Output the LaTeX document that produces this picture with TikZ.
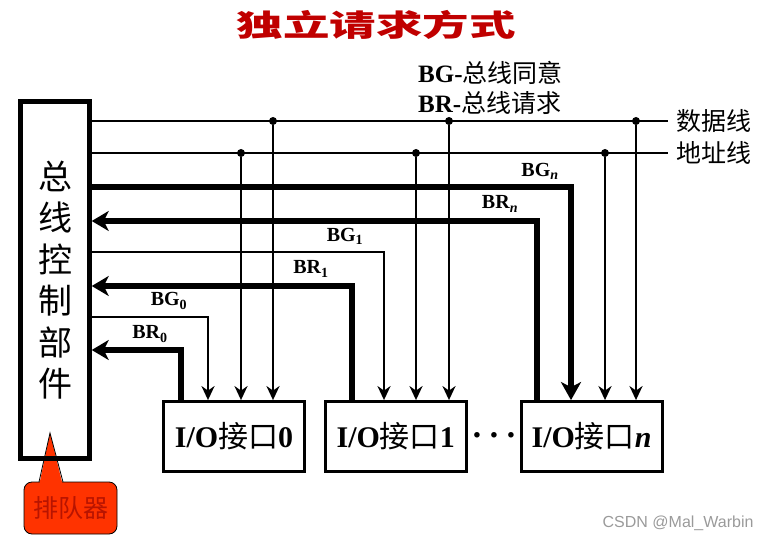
\documentclass[tikz,border=0pt]{standalone}
\usepackage{fontspec}
\setmainfont{Liberation Serif}
\newfontfamily\cjk{Noto Sans CJK SC}
\newfontfamily\wmfont{Liberation Sans}
\usetikzlibrary{arrows.meta,positioning}
\definecolor{titlered}{HTML}{C00000}
\definecolor{queuefill}{HTML}{FF3300}
\definecolor{queuetext}{HTML}{B81400}
\definecolor{wmgray}{HTML}{9A9A9A}
\newcommand{\zhtext}[1]{{\cjk #1}}
\tikzset{
  unit/.style={draw,line width=2.8pt,minimum width=141pt,minimum height=70pt,inner sep=0pt,font=\fontsize{30}{30}\selectfont},
  ctrlbox/.style={draw,line width=4.5pt,minimum width=69pt,minimum height=357pt,inner sep=0pt,align=center,font=\fontsize{34}{41.5}\selectfont\cjk},
  sig/.style={font=\fontsize{20}{20}\selectfont\bfseries,inner sep=0pt},
  legend/.style={font=\fontsize{25}{25}\selectfont,inner sep=0pt,anchor=west},
  bus/.style={line width=2.8pt},
  tap/.style={bus,-{Stealth[length=14pt,width=13pt,inset=4.5pt]}},
  grant/.style={line width=5.5pt,-{Stealth[length=18pt,width=20pt,inset=5pt]}},
  request/.style={line width=5.5pt,-{Stealth[length=17pt,width=20pt,inset=5pt]}},
  joint/.style={circle,fill,inner sep=0pt,minimum size=8pt},
  callout/.style={draw,fill=queuefill,rounded corners=8pt,line width=0.8pt,minimum width=93pt,minimum height=52pt,text=queuetext,font=\fontsize{25}{25}\selectfont\cjk}
}
\begin{document}
\begin{tikzpicture}[x=1pt,y=-1pt]
\useasboundingbox (0,0) rectangle (762,540);
\node[text=titlered,font=\fontsize{30}{30}\selectfont] (title) at (376,25) {\scalebox{1.55}[1]{\cjk\bfseries 独立请求方式}};

% queue callout, pointer behind the control box
\node[callout] (queue) at (70.5,508) {排队器};
\fill[queuefill] (39,486) -- (50,433) -- (63,486) -- cycle;
\draw[line width=0.8pt] (39,482) -- (50,433) -- (63,482);

\node[ctrlbox] (ctrl) at (55,280) {总\\线\\控\\制\\部\\件};
\node[unit] (io0) at (234,436.5) {\textbf{I/O}\zhtext{接口}\textbf{0}};
\node[unit,right=18pt of io0] (io1) {\textbf{I/O}\zhtext{接口}\textbf{1}};
\node[unit,right=52pt of io1] (ion) {\textbf{I/O}\zhtext{接口}\textbf{\textit{n}}};
\node[font=\fontsize{34}{34}\selectfont\bfseries] (more) at (494,439) {·\,·\,·};

\node[legend] (bgnote) at (418,73) {\textbf{BG-}\zhtext{总线同意}};
\node[legend] (brnote) at (418,103) {\textbf{BR-}\zhtext{总线请求}};

% data and address bus
\coordinate (dataend) at (668,121);
\coordinate (addrend) at (668,153);
\draw[bus] (ctrl.east |- dataend) -- (dataend);
\draw[bus] (ctrl.east |- addrend) -- (addrend);
\node[legend] (datalbl) at ([xshift=8pt]dataend) {\zhtext{数据线}};
\node[legend] (addrlbl) at ([xshift=8pt]addrend) {\zhtext{地址线}};
\foreach \x/\y/\u in {273/121/io0,449/121/io1,636/121/ion,241/153/io0,416/153/io1,605/153/ion}{
  \node[joint] (tap-\u-\y) at (\x,\y) {};
  \draw[tap] (tap-\u-\y) -- (tap-\u-\y |- \u.north);
}

% grant / request lines
\coordinate (bgn) at (571,187);
\coordinate (brn) at (537,221);
\coordinate (bg1) at (384,252);
\coordinate (br1) at (352,286);
\coordinate (bg0) at (208,317);
\coordinate (br0) at (181,350);
\draw[grant] (ctrl.east |- bgn) -| (bgn |- ion.north);
\draw[request] (brn |- ion.north) |- (ctrl.east |- brn);
\draw[tap] (ctrl.east |- bg1) -| (bg1 |- io1.north);
\draw[request] (br1 |- io1.north) |- (ctrl.east |- br1);
\draw[tap] (ctrl.east |- bg0) -| (bg0 |- io0.north);
\draw[request] (br0 |- io0.north) |- (ctrl.east |- br0);

\node[sig] (lbgn) at (540,171) {BG\textsubscript{\textit{n}}};
\node[sig] (lbrn) at (500,204) {BR\textsubscript{\textit{n}}};
\node[sig] (lbg1) at (345,236) {BG\textsubscript{1}};
\node[sig] (lbr1) at (311,269) {BR\textsubscript{1}};
\node[sig] (lbg0) at (169,301) {BG\textsubscript{0}};
\node[sig] (lbr0) at (150,334) {BR\textsubscript{0}};

\node[anchor=east,text=wmgray,font=\wmfont\fontsize{16}{16}\selectfont] (wm) at (757,523) {CSDN @Mal\_Warbin};
\end{tikzpicture}
\end{document}
